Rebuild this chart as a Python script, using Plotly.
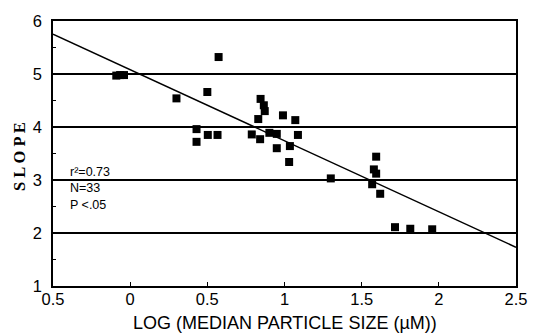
import plotly.graph_objects as go

# Data
log_size = [-0.09, -0.065, -0.04, 0.30, 0.50, 0.573, 0.43, 0.43, 0.503, 0.566,
            0.788, 0.842, 0.83, 0.845, 0.866, 0.872, 0.99, 1.07, 0.902, 0.95,
            0.95, 1.035, 1.087, 1.03, 1.30, 1.594, 1.579, 1.594, 1.568, 1.62,
            1.716, 1.815, 1.957]
slope = [4.97, 4.98, 4.98, 4.54, 4.66, 5.32, 3.96, 3.72, 3.85, 3.85,
         3.86, 3.77, 4.15, 4.53, 4.41, 4.30, 4.22, 4.13, 3.89, 3.87,
         3.60, 3.64, 3.85, 3.34, 3.03, 3.44, 3.20, 3.12, 2.92, 2.74,
         2.11, 2.08, 2.07]

fit_x = [-0.5, 2.5]
fit_y = [5.75, 1.73]

x_tickvals = [-0.5, 0, 0.5, 1, 1.5, 2, 2.5]
x_ticktext = ["0.5", "0", "0.5", "1", "1.5", "2", "2.5"]
y_tickvals = [1, 2, 3, 4, 5, 6]
y_ticktext = ["1", "2", "3", "4", "5", "6"]

stats_text = ["r\u00b2=0.73", "N=33", "P <.05"]
stats_y = [3.15, 2.85, 2.53]

fig = go.Figure()
fig.add_trace(go.Scatter(x=fit_x, y=fit_y, mode="lines",
                         line=dict(color="black", width=1.5),
                         showlegend=False, hoverinfo="skip"))
fig.add_trace(go.Scatter(x=log_size, y=slope, mode="markers",
                         marker=dict(symbol="square", size=8, color="black",
                                     line=dict(width=0)),
                         showlegend=False))

for t, yy in zip(stats_text, stats_y):
    fig.add_annotation(x=-0.405, y=yy, xref="x", yref="y", text=t,
                       showarrow=False, xanchor="left", yanchor="middle",
                       font=dict(family="Liberation Sans, Arial", size=12.5,
                                 color="black"))

fig.add_annotation(x=-0.0738, y=0.49, xref="paper", yref="paper",
                   text="S L O P E", textangle=-90, showarrow=False,
                   xanchor="center", yanchor="middle",
                   font=dict(family="Liberation Serif, Times New Roman",
                             size=16.5, color="black", weight="bold"))
fig.add_annotation(x=0.5005, y=-0.14, xref="paper", yref="paper",
                   text="LOG (MEDIAN PARTICLE SIZE (\u00b5M))", showarrow=False,
                   xanchor="center", yanchor="middle",
                   font=dict(family="Liberation Sans, Arial", size=18,
                             color="black"))

fig.update_layout(
    width=539, height=336,
    margin=dict(l=52.5, r=12, t=20, b=50),
    paper_bgcolor="white", plot_bgcolor="white",
    font=dict(family="Liberation Sans, Arial", color="black", size=16),
    xaxis=dict(range=[-0.5, 2.5], tickvals=x_tickvals, ticktext=x_ticktext,
               showgrid=False, zeroline=False, showline=True,
               linecolor="black", linewidth=1.5, mirror=True,
               ticks="inside", ticklen=4, tickcolor="black", tickwidth=1,
               ticklabelstandoff=-3,
               tickfont=dict(size=16.5)),
    yaxis=dict(range=[1, 6], tickvals=y_tickvals, ticktext=y_ticktext,
               showgrid=True, gridcolor="black", gridwidth=1.5,
               zeroline=False, showline=True, linecolor="black",
               linewidth=1.5, mirror=True,
               ticks="", ticklabelstandoff=6,
               minor=dict(tickvals=[1.5, 2.5, 3.5, 4.5, 5.5], ticks="inside",
                          ticklen=3, tickcolor="black", tickwidth=1),
               tickfont=dict(size=16.5)),
)

fig.write_html("out.html")
